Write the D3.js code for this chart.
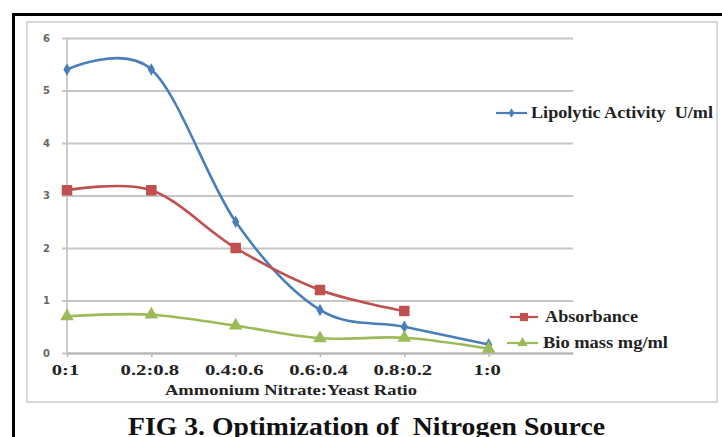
<!DOCTYPE html>
<html>
<head>
<meta charset="utf-8">
<script src="https://cdn.jsdelivr.net/npm/d3@7"></script>
<style>
body { margin: 0; background: #fff; }
svg { display: block; }
</style>
</head>
<body>
<svg id="chart" width="722" height="437"></svg>
<script>
// ratios of ammonium nitrate : yeast
var categories = ["0:1", "0.2:0.8", "0.4:0.6", "0.6:0.4", "0.8:0.2", "1:0"];
var lipolytic = [5.4, 5.4, 2.5, 0.82, 0.5, 0.16];
var absorbance = [3.1, 3.1, 2.0, 1.2, 0.8, null];
var biomass = [0.7, 0.73, 0.52, 0.28, 0.29, 0.08];
var yTicks = [0, 1, 2, 3, 4, 5, 6];

var seriesNames = ["Lipolytic Activity  U/ml", "Absorbance", "Bio mass mg/ml"];
var colors = ["#4a7ebb", "#c0504d", "#9bbb59"];

var svg = d3.select("#chart");
var serif = "'Liberation Serif', 'DejaVu Serif', serif";

// outer black frame (runs off the page on the right / bottom)
svg.append("rect")
    .attr("x", 13.5).attr("y", 14.5)
    .attr("width", 740).attr("height", 440)
    .attr("fill", "none").attr("stroke", "#000").attr("stroke-width", 3);

// chart area frame
svg.append("rect")
    .attr("x", 27).attr("y", 22)
    .attr("width", 690).attr("height", 380)
    .attr("fill", "#fff").attr("stroke", "#d9d9d9").attr("stroke-width", 2);

var plotL = 67, plotR = 573, plotT = 38, plotB = 353;

// 7 slots like excel, last one empty
var x = d3.scalePoint()
    .domain(categories.concat(["_"]))
    .range([plotL, plotR]);

var y = d3.scaleLinear()
    .domain([0, 6])
    .range([plotB, plotT]);

var g = svg.append("g");

// gridlines
g.append("g")
    .attr("transform", "translate(" + plotL + ",0)")
    .call(d3.axisLeft(y).tickValues(yTicks).tickFormat(d3.format("d"))
        .tickSize(-(plotR - plotL)).tickSizeOuter(0).tickPadding(17))
    .call(function(a) {
        a.select(".domain").remove();
        a.selectAll(".tick line").attr("stroke", "#c6c6c6").attr("stroke-width", 1.8).attr("x1", -5);
        a.selectAll(".tick text")
            .attr("fill", "#666")
            .attr("font-family", "'DejaVu Sans', sans-serif")
            .attr("font-weight", "bold")
            .attr("font-size", 10);
    });

// y axis line
g.append("line")
    .attr("x1", plotL).attr("x2", plotL)
    .attr("y1", plotT).attr("y2", plotB)
    .attr("stroke", "#c6c6c6").attr("stroke-width", 1.8);

// x axis
g.append("g")
    .attr("transform", "translate(0," + plotB + ")")
    .call(d3.axisBottom(x).tickValues(categories).tickSize(4).tickSizeOuter(0).tickPadding(6))
    .call(function(a) {
        a.select(".domain").attr("stroke", "#b5b5b5").attr("stroke-width", 1.8);
        a.selectAll(".tick line").attr("stroke", "#b5b5b5").attr("stroke-width", 1.5);
        a.selectAll(".tick text")
            .attr("fill", "#222")
            .attr("font-family", serif)
            .attr("font-weight", "bold")
            .attr("font-size", 15)
            .attr("y", 0).attr("dy", 0)
            .attr("transform", "translate(-2,22) scale(1.38,1)");
    });

function stretchText(sel, w) {
    sel.attr("textLength", w).attr("lengthAdjust", "spacingAndGlyphs");
}

svg.append("text")
    .attr("x", 165).attr("y", 395)
    .attr("font-family", serif).attr("font-weight", "bold").attr("font-size", 15)
    .attr("fill", "#222")
    .text("Ammonium Nitrate:Yeast Ratio")
    .call(stretchText, 252);

var allSeries = [lipolytic, absorbance, biomass];

var line = d3.line()
    .defined(function(d) { return d.v != null; })
    .x(function(d) { return x(d.c); })
    .y(function(d) { return y(d.v); })
    .curve(d3.curveCatmullRom.alpha(0));

var symbols = [d3.symbolDiamond, d3.symbolSquare, d3.symbolTriangle];
var symSize = [45, 110, 80];

allSeries.forEach(function(vals, i) {
    var pts = categories.map(function(c, j) { return {c: c, v: vals[j]}; });
    g.append("path")
        .datum(pts)
        .attr("d", line)
        .attr("fill", "none")
        .attr("stroke", colors[i])
        .attr("stroke-width", 2.6);
});

// markers on top
allSeries.forEach(function(vals, i) {
    var pts = categories.map(function(c, j) { return {c: c, v: vals[j]}; })
        .filter(function(d) { return d.v != null; });
    g.selectAll(".m" + i)
        .data(pts)
        .enter().append("path")
        .attr("class", "m" + i)
        .attr("transform", function(d) { return "translate(" + x(d.c) + "," + y(d.v) + ")"; })
        .attr("d", d3.symbol().type(symbols[i]).size(symSize[i]))
        .attr("fill", colors[i]);
});

// legend
var legendPos = [[496, 113, 31, 531, 182], [510, 317, 28, 545, 93], [507, 343, 31, 543, 125]];
seriesNames.forEach(function(name, i) {
    var p = legendPos[i];
    var lg = svg.append("g").attr("transform", "translate(" + p[0] + "," + p[1] + ")");
    lg.append("line")
        .attr("x1", 0).attr("x2", p[2])
        .attr("stroke", colors[i]).attr("stroke-width", 2.2);
    lg.append("path")
        .attr("transform", "translate(" + (p[2] / 2) + ",0)")
        .attr("d", d3.symbol().type(symbols[i]).size(symSize[i] * 0.6))
        .attr("fill", colors[i]);
    svg.append("text")
        .attr("x", p[3]).attr("y", p[1] + 5)
        .attr("xml:space", "preserve")
        .style("white-space", "pre")
        .attr("font-family", serif).attr("font-weight", "bold").attr("font-size", 16)
        .attr("fill", "#222")
        .text(name)
        .call(stretchText, p[4]);
});

// caption (cut by the bottom edge, as in the figure)
svg.append("text")
    .attr("x", 128).attr("y", 435)
    .attr("xml:space", "preserve")
    .style("white-space", "pre")
    .attr("font-family", serif).attr("font-weight", "bold").attr("font-size", 26)
    .attr("fill", "#111")
    .text("FIG 3. Optimization of  Nitrogen Source")
    .call(stretchText, 477);
</script>
</body>
</html>
